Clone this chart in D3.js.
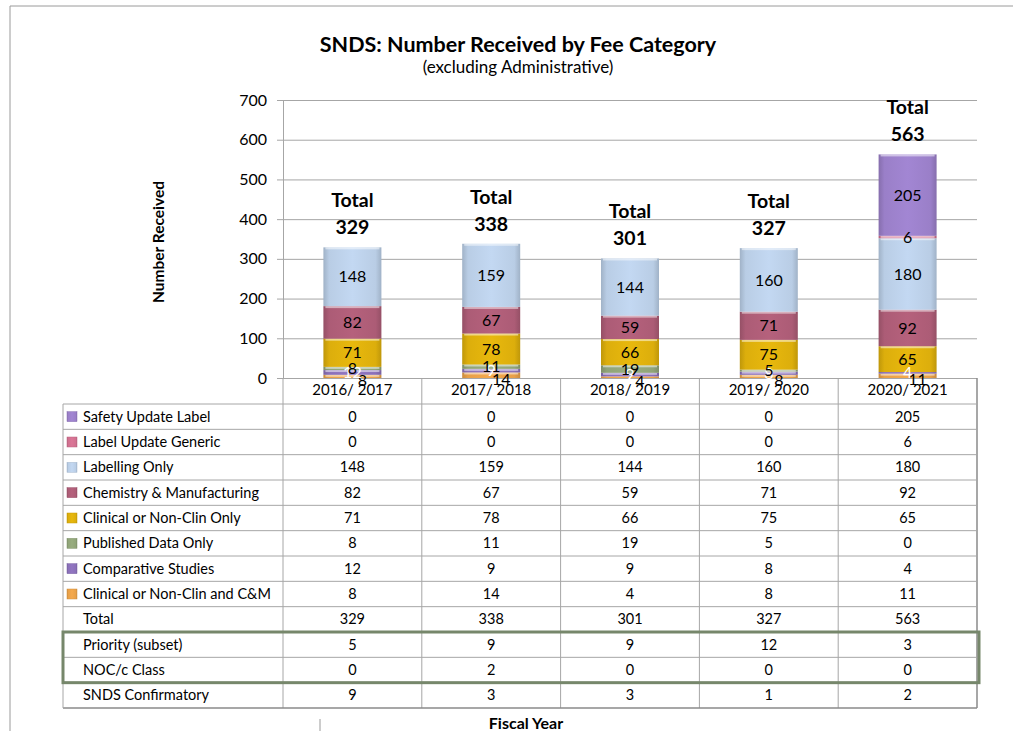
<!DOCTYPE html>
<html>
<head>
<meta charset="utf-8">
<script src="https://cdn.jsdelivr.net/npm/d3@7"></script>
<style>
  body { margin: 0; background: #fff; }
  svg { font-family: Lato, "Open Sans", sans-serif; }
</style>
</head>
<body>
<svg id="chart" width="1013" height="731"></svg>
<script>
// fiscal years (columns)
const years = ["2016/ 2017", "2017/ 2018", "2018/ 2019", "2019/ 2020", "2020/ 2021"];

// series, in the table order (top of stack first)
const seriesNames = ["Safety Update Label", "Label Update Generic", "Labelling Only",
  "Chemistry & Manufacturing", "Clinical or Non-Clin Only", "Published Data Only",
  "Comparative Studies", "Clinical or Non-Clin and C&M"];
const safetyUpdate = [0, 0, 0, 0, 205];
const labelGeneric = [0, 0, 0, 0, 6];
const labellingOnly = [148, 159, 144, 160, 180];
const chemistry = [82, 67, 59, 71, 92];
const clinicalOnly = [71, 78, 66, 75, 65];
const publishedData = [8, 11, 19, 5, 0];
const comparative = [12, 9, 9, 8, 4];
const clinicalCM = [8, 14, 4, 8, 11];

// extra table rows
const totals = [329, 338, 301, 327, 563];
const priority = [5, 9, 9, 12, 3];
const nocClass = [0, 2, 0, 0, 0];
const confirmatory = [9, 3, 3, 1, 2];

const yTicks = [0, 100, 200, 300, 400, 500, 600, 700];

const seriesValues = [safetyUpdate, labelGeneric, labellingOnly, chemistry,
  clinicalOnly, publishedData, comparative, clinicalCM];
const seriesColors = ["#9a7fc8", "#d0708f", "#b9cde5", "#ac5c76",
  "#dcae0c", "#90a478", "#8a70b8", "#e8a048"];
const labelColors = ["#000", "#000", "#000", "#000", "#000", "#000", "#fff", "#000"];

const svg = d3.select("#chart");
const gridColor = "#a6a6a6";

// outer frame (top + left only)
svg.append("path").attr("d", "M10,731V6H1013").attr("fill", "none").attr("stroke", "#9a9a9a");
svg.append("line").attr("x1", 320).attr("x2", 320).attr("y1", 719).attr("y2", 731).attr("stroke", "#9a9a9a");

// titles
svg.append("text").attr("x", 518).attr("y", 44).attr("dy", "0.35em").attr("text-anchor", "middle")
  .attr("font-weight", "bold").attr("font-size", 21.5).text("SNDS: Number Received by Fee Category");
svg.append("text").attr("x", 518).attr("y", 67).attr("dy", "0.35em").attr("text-anchor", "middle")
  .attr("font-size", 17).text("(excluding Administrative)");

const plotLeft = 283, plotRight = 977, plotTop = 100, plotBottom = 378;

const x = d3.scaleBand().domain(years).range([plotLeft, plotRight]);
const y = d3.scaleLinear().domain([0, 700]).range([plotBottom, plotTop]);
const barW = 58;

// grid
svg.append("g")
  .attr("transform", `translate(${plotLeft},0)`)
  .call(d3.axisLeft(y).tickValues(yTicks).tickSize(-(plotRight - plotLeft)).tickFormat(""))
  .call(g => g.select(".domain").remove())
  .call(g => g.selectAll("line").attr("stroke", gridColor));

// y axis
svg.append("g")
  .attr("transform", `translate(${plotLeft},0)`)
  .call(d3.axisLeft(y).tickValues(yTicks).tickSize(6).tickPadding(10).tickSizeOuter(0))
  .call(g => g.select(".domain").attr("stroke", gridColor))
  .call(g => g.selectAll("line").attr("stroke", gridColor))
  .call(g => g.selectAll("text").attr("font-size", 16).attr("font-family", "Lato").attr("fill", "#000"));

svg.append("text")
  .attr("transform", "translate(159,242) rotate(-90)")
  .attr("dy", "0.35em")
  .attr("text-anchor", "middle").attr("font-weight", "bold").attr("font-size", 15.5)
  .text("Number Received");

// gradients for bevel look
const defs = svg.append("defs");
seriesColors.forEach((c, i) => {
  const g = defs.append("linearGradient").attr("id", "grad" + i)
    .attr("x1", 0).attr("x2", 1).attr("y1", 0).attr("y2", 0);
  g.append("stop").attr("offset", "0").attr("stop-color", d3.rgb(c).darker(0.4));
  g.append("stop").attr("offset", "0.1").attr("stop-color", c);
  g.append("stop").attr("offset", "0.5").attr("stop-color", d3.rgb(c).brighter(0.15));
  g.append("stop").attr("offset", "0.9").attr("stop-color", c);
  g.append("stop").attr("offset", "1").attr("stop-color", d3.rgb(c).darker(0.4));
});

// stacked bars (stack bottom-up: reverse of table order)
const stackOrder = d3.range(seriesNames.length).reverse();
const rows = years.map((yr, j) => {
  const o = { year: yr };
  seriesNames.forEach((s, i) => { o[s] = seriesValues[i][j]; });
  return o;
});
const stacked = d3.stack().keys(stackOrder.map(i => seriesNames[i]))(rows);

stacked.forEach(layer => {
  const si = seriesNames.indexOf(layer.key);
  const g = svg.append("g");
  g.selectAll("rect").data(layer.filter(d => d[1] > d[0])).enter().append("rect")
    .attr("x", d => x(d.data.year) + (x.bandwidth() - barW) / 2)
    .attr("width", barW)
    .attr("y", d => y(d[1]))
    .attr("height", d => y(d[0]) - y(d[1]))
    .attr("fill", `url(#grad${si})`);
  g.selectAll("rect.hl").data(layer.filter(d => d[1] - d[0] > 4)).enter().append("rect")
    .attr("class", "hl")
    .attr("x", d => x(d.data.year) + (x.bandwidth() - barW) / 2 + 2)
    .attr("width", barW - 4)
    .attr("y", d => y(d[1]))
    .attr("height", 2)
    .attr("fill", "#fff").attr("opacity", 0.5);
});

// data labels
stacked.forEach(layer => {
  const si = seriesNames.indexOf(layer.key);
  const dx = si === 7 ? 10 : 0;
  const dy = si === 7 ? 4 : 0;
  svg.append("g").selectAll("text").data(layer.filter(d => d[1] > d[0])).enter().append("text")
    .attr("x", d => x(d.data.year) + x.bandwidth() / 2 + dx)
    .attr("y", d => (y(d[0]) + y(d[1])) / 2 + dy)
    .attr("dy", "0.35em")
    .attr("text-anchor", "middle")
    .attr("font-size", 16)
    .attr("fill", labelColors[si])
    .text(d => d[1] - d[0]);
});

// totals above bars
const tot = svg.append("g").selectAll("g").data(years).enter().append("g")
  .attr("font-weight", "bold").attr("font-size", 19.5).attr("text-anchor", "middle");
tot.append("text")
  .attr("x", d => x(d) + x.bandwidth() / 2)
  .attr("y", (d, j) => y(totals[j]) - 47).attr("dy", "0.35em")
  .text("Total");
tot.append("text")
  .attr("x", d => x(d) + x.bandwidth() / 2)
  .attr("y", (d, j) => y(totals[j]) - 20).attr("dy", "0.35em")
  .text((d, j) => totals[j]);

// data table
const tableLeft = 63;
const tableRows = seriesNames.map((s, i) => ({ name: s, values: seriesValues[i], color: seriesColors[i] }))
  .concat([
    { name: "Total", values: totals },
    { name: "Priority (subset)", values: priority },
    { name: "NOC/c Class", values: nocClass },
    { name: "SNDS Confirmatory", values: confirmatory }
  ]);
const rowY = d3.scaleBand().domain(tableRows.map(r => r.name)).range([404, 708]);
const tg = svg.append("g").attr("font-size", 14.5);

// header row with years
years.forEach(yr => {
  tg.append("text").attr("x", x(yr) + x.bandwidth() / 2).attr("y", 390).attr("dy", "0.35em")
    .attr("text-anchor", "middle").attr("font-size", 15).text(yr);
});
x.domain().concat(["end"]).forEach((yr, k) => {
  const xx = k < years.length ? x(yr) : plotRight;
  tg.append("line").attr("x1", xx).attr("x2", xx).attr("y1", plotBottom).attr("y2", 708)
    .attr("stroke", k === years.length ? "#8a8a8a" : gridColor)
    .attr("stroke-width", k === years.length ? 1.5 : 1);
});
// horizontal lines
tableRows.forEach(r => {
  tg.append("line").attr("x1", tableLeft).attr("x2", plotRight)
    .attr("y1", rowY(r.name)).attr("y2", rowY(r.name)).attr("stroke", gridColor);
});
tg.append("line").attr("x1", tableLeft).attr("x2", plotRight).attr("y1", 708).attr("y2", 708)
  .attr("stroke", "#8a8a8a").attr("stroke-width", 1.5);
tg.append("line").attr("x1", tableLeft).attr("x2", tableLeft).attr("y1", 404).attr("y2", 708)
  .attr("stroke", gridColor);

tableRows.forEach(r => {
  const cy = rowY(r.name) + rowY.bandwidth() / 2;
  if (r.color) {
    const si = seriesNames.indexOf(r.name);
    tg.append("rect").attr("x", 67).attr("y", cy - 5).attr("width", 10).attr("height", 10)
      .attr("fill", `url(#grad${si})`).attr("stroke", d3.rgb(r.color).darker(0.3)).attr("stroke-width", 0.5);
  }
  tg.append("text").attr("x", 83).attr("y", cy).attr("dy", "0.35em").text(r.name);
  r.values.forEach((v, j) => {
    tg.append("text").attr("x", x(years[j]) + x.bandwidth() / 2).attr("y", cy).attr("dy", "0.35em")
      .attr("text-anchor", "middle").text(v);
  });
});

// highlighted box around subset rows
svg.append("rect")
  .attr("x", tableLeft).attr("y", rowY("Priority (subset)"))
  .attr("width", plotRight + 2 - tableLeft).attr("height", rowY.bandwidth() * 2)
  .attr("fill", "none").attr("stroke", "#76876b").attr("stroke-width", 3);

svg.append("text").attr("x", 526).attr("y", 723).attr("dy", "0.35em")
  .attr("text-anchor", "middle").attr("font-weight", "bold").attr("font-size", 16).text("Fiscal Year");
</script>
</body>
</html>
